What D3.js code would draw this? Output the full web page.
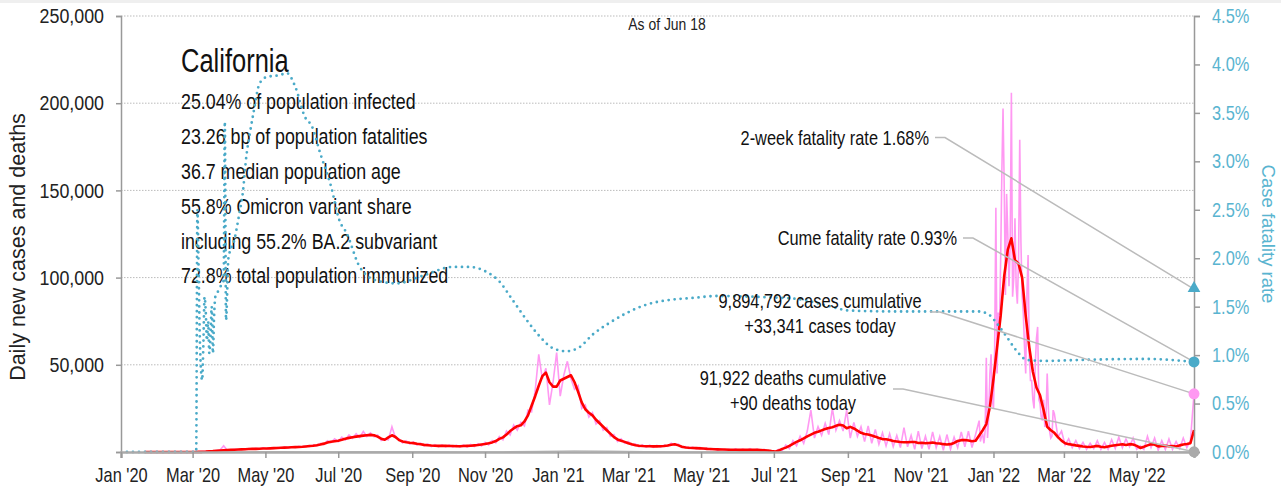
<!DOCTYPE html>
<html>
<head>
<meta charset="utf-8">
<script src="https://cdn.jsdelivr.net/npm/d3@7"></script>
<style>
  body { margin: 0; background: #fff; }
  svg { display: block; }
</style>
</head>
<body>
<div id="chart"></div>
<script>
// daily new cases (thousands), every 3 days from Jan 21 2020
const casesStart = "2020-01-21";
const dailyCases = [
  0, 0, 0, 0, 0, 0, 0, 0, 0, 0,
  0, 0, 0, 0, 0.05, 0.1, 0.2, 0.3, 0.5, 0.6,
  0.9, 1.1, 3.6, 1.0, 1.3, 1.5, 1.2, 1.7, 1.4, 2.0,
  1.6, 2.1, 1.7, 2.4, 1.8, 2.3, 2.0, 2.6, 2.2, 2.8,
  2.4, 3.0, 2.6, 3.3, 2.8, 3.6, 3.1, 4.0, 3.5, 4.9,
  4.3, 6.5, 5.4, 7.5, 6.0, 8.5, 7.0, 9.8, 7.8, 10.5,
  8.4, 11.8, 8.9, 11.0, 8.8, 9.8, 6.6, 7.5, 7.0, 14.5,
  8.0, 7.5, 5.2, 6.5, 4.6, 5.8, 4.0, 5.1, 3.5, 4.6,
  3.1, 4.2, 3.0, 4.1, 2.9, 4.0, 2.8, 3.9, 2.8, 4.1,
  2.9, 4.3, 3.1, 4.8, 3.5, 5.6, 4.1, 6.6, 5.2, 8.9,
  7.0, 12.0, 9.8, 15.5, 12.5, 17.0, 15.0, 24.0, 23.0, 35.0,
  56.0, 42.0, 48.0, 27.0, 40.0, 57.0, 32.0, 44.0, 52.0, 42.0,
  36.0, 38.0, 25.0, 27.0, 20.0, 22.5, 16.0, 18.0, 12.5, 14.0,
  9.0, 10.0, 6.0, 7.5, 5.0, 6.0, 3.8, 4.6, 3.0, 4.0,
  2.8, 3.9, 2.7, 3.8, 2.8, 4.0, 3.2, 5.0, 3.9, 4.5,
  2.5, 3.1, 2.0, 2.8, 1.8, 2.6, 1.6, 2.3, 1.3, 2.0,
  1.1, 1.8, 1.0, 1.7, 0.9, 1.8, 0.8, 1.7, 0.9, 1.9,
  0.8, 1.7, 0.7, 1.5, 0.5, 0.3, 0.1, 1.5, 0.8, 4.0,
  2.0, 6.5, 3.5, 9.0, 5.0, 12.0, 24.0, 8.0, 14.5, 9.5,
  16.5, 10.0, 25.0, 12.5, 18.0, 12.0, 24.0, 8.0, 17.0, 9.0,
  14.5, 6.0, 15.0, 5.0, 13.0, 4.5, 11.0, 3.5, 10.5, 3.0,
  9.5, 2.5, 14.0, 3.0, 9.5, 1.5, 12.0, 2.0, 9.0, 1.5,
  11.5, 2.5, 9.0, 1.0, 10.0, 1.5, 8.5, 2.5, 11.5, 3.0,
  12.0, 2.5, 10.0
];
// Omicron wave, one value per day
const omicronStart = "2021-12-20";
const omicronCases = [
  18, 6, 9, 10, 5, 12, 54, 8, 20, 45,
  56, 30, 25, 60, 140, 45, 80, 70, 110, 160,
  197, 152, 90, 148, 125, 95, 120, 206, 89, 100,
  134, 95, 85, 110, 179, 120, 90, 79.5, 60, 45,
  90, 113, 55, 41, 41, 30, 25, 50, 65, 71.7,
  30, 27.8, 20, 18, 30, 14.3, 20, 45, 25, 12,
  8, 9, 24
];
const springStart = "2022-02-21";
const springCases = [
  22, 8.5, 12, 4, 7.5, 2.5, 6.5, 2, 5.5, 1.5,
  5.0, 2.0, 6.5, 1.5, 5.5, 1.5, 7.0, 2.0, 8.5, 2.5,
  7.5, 3.0, 8.0, 1.5, 3.5, 1.5, 9.0, 2.5, 8.0, 1.0,
  6.5, 1.5, 7.5, 1.5, 6.0, 2.0, 8.0, 2.5, 6.5, 33.341
];

// 7-day average of new cases (thousands), every 3 days from Jan 21 2020
const avgCases = [
  0, 0, 0, 0, 0, 0, 0, 0, 0, 0,
  0, 0, 0, 0, 0.02, 0.05, 0.1, 0.2, 0.35, 0.5,
  0.7, 0.9, 1.0, 1.1, 1.2, 1.3, 1.4, 1.5, 1.6, 1.7,
  1.8, 1.8, 1.9, 2.0, 2.0, 2.1, 2.2, 2.3, 2.4, 2.5,
  2.6, 2.7, 2.8, 2.9, 3.0, 3.2, 3.4, 3.6, 3.9, 4.3,
  4.8, 5.4, 5.9, 6.2, 6.5, 7.0, 7.6, 8.1, 8.5, 8.8,
  9.1, 9.4, 9.6, 9.8, 9.6, 8.8, 7.6, 7.0, 8.4, 9.6,
  8.6, 6.8, 6.0, 5.6, 5.3, 5.1, 4.7, 4.4, 4.1, 3.9,
  3.7, 3.6, 3.5, 3.5, 3.5, 3.4, 3.4, 3.3, 3.3, 3.4,
  3.5, 3.6, 3.8, 4.0, 4.3, 4.6, 5.0, 5.5, 6.3, 7.5,
  8.4, 10.0, 12.0, 13.5, 14.8, 15.3, 17.5, 21.0, 26.5, 32.0,
  38.0, 43.5, 45.5, 40.0, 37.5, 37.5, 41.0, 42.0, 43.0, 44.0,
  40.0, 34.5, 28.5, 24.5, 22.5, 21.0, 18.5, 16.5, 14.5, 12.5,
  10.5, 8.5, 7.2, 6.5, 5.8, 5.0, 4.4, 3.9, 3.6, 3.4,
  3.3, 3.3, 3.2, 3.2, 3.3, 3.4, 3.7, 4.2, 4.4, 3.8,
  3.0, 2.6, 2.4, 2.3, 2.2, 2.1, 2.0, 1.8, 1.7, 1.6,
  1.5, 1.4, 1.4, 1.3, 1.3, 1.3, 1.2, 1.2, 1.2, 1.3,
  1.2, 1.2, 1.1, 1.0, 0.9, 0.5, 0.2, 0.8, 1.8, 2.5,
  3.5, 4.7, 5.8, 6.7, 7.8, 9.0, 10.0, 11.0, 11.6, 12.4,
  13.2, 13.8, 14.2, 15.0, 15.6, 15.2, 13.6, 14.4, 13.5, 12.2,
  11.0, 10.3, 10.0, 9.5, 8.8, 8.0, 7.4, 7.3, 6.9, 6.3,
  6.0, 5.7, 5.6, 5.6, 5.7, 5.7, 5.2, 5.3, 5.0, 5.2,
  5.4, 5.0, 4.9, 4.5, 4.3, 4.5, 5.2, 6.3, 6.8, 6.9,
  6.6, 6.2, 6.5, 9.5, 12.5, 16.0, 26.0, 42.0, 60.0, 78.0,
  101.0, 116.0, 122.5, 110.0, 108.0, 100.0, 78.0, 60.0, 46.0, 37.0,
  32.5, 24.0, 14.5, 12.5, 11.0, 8.5, 6.5, 5.0, 4.5, 4.2,
  3.8, 3.5, 3.2, 3.0, 2.9, 3.2, 3.5, 3.0, 2.7, 3.2,
  3.6, 3.9, 4.2, 4.4, 4.0, 4.5, 4.3, 3.5, 2.3, 3.0,
  3.8, 4.5, 4.3, 3.2, 3.5, 3.6, 3.3, 3.4, 3.1, 3.8,
  4.3, 4.6, 5.0, 12.5
];

// daily deaths (thousands), mid-month from Mar 2020
const deathsStart = "2020-03-15";
const dailyDeaths = [
  0.01, 0.07, 0.08, 0.06, 0.11, 0.14, 0.10, 0.06, 0.06, 0.30,
  0.55, 0.40, 0.15, 0.05, 0.03, 0.02, 0.02, 0.05, 0.10, 0.07,
  0.05, 0.05, 0.09, 0.20, 0.10, 0.04, 0.02, 0.02
];

// case fatality rate (%)
const cfrDates = [
  "2020-01-06", "2020-03-04", "2020-03-05", "2020-03-06", "2020-03-07", "2020-03-08", "2020-03-09",
  "2020-03-10", "2020-03-11", "2020-03-12", "2020-03-13", "2020-03-14", "2020-03-15", "2020-03-16",
  "2020-03-17", "2020-03-18", "2020-03-19", "2020-03-20", "2020-03-22", "2020-03-24", "2020-03-27",
  "2020-03-28", "2020-03-29", "2020-03-31", "2020-04-05", "2020-04-09", "2020-04-12", "2020-04-15",
  "2020-04-18", "2020-04-21", "2020-04-26", "2020-05-02", "2020-05-13", "2020-05-19", "2020-05-26",
  "2020-06-03", "2020-06-09", "2020-06-16", "2020-06-25", "2020-07-02", "2020-07-08", "2020-07-19",
  "2020-08-02", "2020-08-19", "2020-09-10", "2020-10-05", "2020-10-19", "2020-11-02", "2020-11-13",
  "2020-11-24", "2020-12-06", "2020-12-17", "2020-12-28", "2021-01-08", "2021-01-19", "2021-01-30",
  "2021-02-13", "2021-02-27", "2021-03-16", "2021-04-05", "2021-04-24", "2021-05-14", "2021-06-19",
  "2021-07-20", "2021-08-15", "2021-09-02", "2021-10-14", "2021-12-20", "2021-12-29", "2022-01-03",
  "2022-01-12", "2022-01-20", "2022-01-29", "2022-02-14", "2022-03-14", "2022-05-09", "2022-06-18"
];
const cfrValues = [
  0, 0, 2.5, 1.9, 1.2, 0.85, 0.74,
  1.1, 1.6, 1.45, 1.15, 1.35, 1.02, 1.2,
  1.5, 1.02, 1.4, 1.6, 1.65, 1.7, 1.77,
  3.41, 1.36, 2.0, 2.19, 2.45, 2.67, 3.05,
  3.29, 3.5, 3.8, 3.87, 3.89, 3.91, 3.77,
  3.46, 3.36, 3.08, 2.74, 2.39, 2.26, 1.91,
  1.77, 1.74, 1.82, 1.91, 1.91, 1.86, 1.76,
  1.57, 1.36, 1.19, 1.07, 1.04, 1.08, 1.21,
  1.33, 1.43, 1.52, 1.57, 1.59, 1.61, 1.6,
  1.58, 1.51, 1.46, 1.45, 1.45, 1.41, 1.34,
  1.19, 1.05, 0.95, 0.94, 0.95, 0.96, 0.93
];

const caseTicks = [0, 50, 100, 150, 200, 250];
const rateTicks = [0, 0.5, 1, 1.5, 2, 2.5, 3, 3.5, 4, 4.5];

const lastDate = "2022-06-18";
const twoWeekRate = 1.68;
const cumeRate = 0.93;
const casesToday = 33.341;
const deathsToday = 0.09;

const title = "California";
const statLines = [
  "25.04% of population infected",
  "23.26 bp of population fatalities",
  "36.7 median population age",
  "55.8% Omicron variant share",
  "including 55.2% BA.2 subvariant",
  "72.8% total population immunized"
];

const width = 1281;
const height = 491;
const margin = { top: 16, right: 87, bottom: 39, left: 121 };
const font = "'Liberation Sans', Arial, sans-serif";
const blue = "#4aaac8";
const blueText = "#59b4d0";

// no condensed face is installed, so squeeze text horizontally
function squeeze(sel, k) {
  sel.each(function() {
    const t = d3.select(this);
    const x0 = +t.attr("x") || 0;
    t.attr("x", x0 / k).attr("transform", `scale(${k},1)`);
    t.selectAll("tspan").each(function() {
      const s = d3.select(this);
      if (s.attr("x") != null) s.attr("x", +s.attr("x") / k);
    });
  });
}

const parse = d3.timeParse("%Y-%m-%d");
const seq = (start, step, values) =>
  values.map((v, i) => ({ date: d3.timeDay.offset(parse(start), i * step), value: v }));

const cases = [
  ...seq(casesStart, 3, dailyCases),
  ...seq(omicronStart, 1, omicronCases),
  ...seq(springStart, 3, springCases)
];
const avg = seq(casesStart, 3, avgCases);
const deaths = [
  { date: parse(casesStart), value: 0 },
  ...dailyDeaths.map((v, i) => ({ date: d3.timeMonth.offset(parse(deathsStart), i), value: v })),
  { date: parse(lastDate), value: deathsToday }
];
const cfr = cfrDates.map((d, i) => ({ date: parse(d), value: cfrValues[i] }));

const x = d3.scaleTime()
  .domain([parse("2020-01-01"), parse(lastDate)])
  .range([margin.left, width - margin.right]);
const y = d3.scaleLinear().domain([0, 250]).range([height - margin.bottom, margin.top]);
const yr = d3.scaleLinear().domain([0, 4.5]).range([height - margin.bottom, margin.top]);

const svg = d3.select("#chart").append("svg")
  .attr("width", width)
  .attr("height", height)
  .style("font-family", font);

svg.append("rect").attr("width", width).attr("height", 3).attr("fill", "#efefef");

// gridlines
svg.append("g")
  .selectAll("line")
  .data(caseTicks.filter(d => d > 0))
  .join("line")
  .attr("x1", x.range()[0])
  .attr("x2", x.range()[1])
  .attr("y1", d => y(d))
  .attr("y2", d => y(d))
  .attr("stroke", "#bbb")
  .attr("stroke-dasharray", "1.5,1.5");

// info block
const info = svg.append("g").attr("fill", "#111");
info.append("text")
  .attr("x", 181).attr("y", 72.5)
  .attr("font-size", 34)
  .text(title)
  .call(squeeze, 0.75);
info.selectAll("text.stat")
  .data(statLines)
  .join("text")
  .attr("class", "stat")
  .attr("x", 181)
  .attr("y", (d, i) => 109 + i * 34.9)
  .attr("font-size", 22)
  .text(d => d)
  .call(squeeze, 0.81);

svg.append("text")
  .attr("x", 667).attr("y", 30)
  .attr("text-anchor", "middle")
  .attr("font-size", 17)
  .attr("fill", "#222")
  .text("As of Jun 18")
  .call(squeeze, 0.82);

// series
const line = d3.line().x(d => x(d.date)).y(d => y(d.value));
svg.append("path").datum(cases)
  .attr("d", line)
  .attr("fill", "none")
  .attr("stroke", "#ff99f2")
  .attr("stroke-width", 1.6);
svg.append("path").datum(deaths)
  .attr("d", line)
  .attr("fill", "none")
  .attr("stroke", "#bbb")
  .attr("stroke-width", 1.5);
svg.append("path").datum(avg)
  .attr("d", line)
  .attr("fill", "none")
  .attr("stroke", "#ff0000")
  .attr("stroke-width", 2.6)
  .attr("stroke-linejoin", "round");
svg.append("path").datum(cfr)
  .attr("d", d3.line().x(d => x(d.date)).y(d => yr(d.value)).curve(d3.curveMonotoneX))
  .attr("fill", "none")
  .attr("stroke", blue)
  .attr("stroke-width", 2.8)
  .attr("stroke-linecap", "round")
  .attr("stroke-dasharray", "0,6");

// axes
const axisColor = "#999";
const left = svg.append("g")
  .attr("transform", `translate(${margin.left},0)`)
  .call(d3.axisLeft(y).tickValues(caseTicks).tickSize(5).tickPadding(12)
    .tickFormat(d => d === 0 ? "" : d3.format(",")(d * 1000)));
left.selectAll("text").attr("font-size", 21).attr("fill", "#222").attr("font-family", font)
  .call(squeeze, 0.85);

const right = svg.append("g")
  .attr("transform", `translate(${width - margin.right},0)`)
  .call(d3.axisRight(yr).tickValues(rateTicks).tickSize(6).tickPadding(12)
    .tickFormat(d => d.toFixed(1) + "%"));
right.selectAll("text").attr("font-size", 20).attr("fill", blueText).attr("font-family", font)
  .call(squeeze, 0.82);

const bottom = svg.append("g")
  .attr("transform", `translate(0,${height - margin.bottom})`)
  .call(d3.axisBottom(x).ticks(d3.timeMonth.every(2)).tickSizeOuter(0).tickSize(6).tickPadding(10)
    .tickFormat(d3.timeFormat("%b '%y")));
bottom.selectAll("text").attr("font-size", 20).attr("fill", "#222").attr("font-family", font)
  .call(squeeze, 0.82);

[left, right, bottom].forEach(g => {
  g.select(".domain").attr("stroke", axisColor).attr("stroke-width", 1.5);
  g.selectAll(".tick line").attr("stroke", axisColor).attr("stroke-width", 1.5);
});
bottom.select(".domain").attr("stroke", "#aaa").attr("stroke-width", 2.5);

svg.append("text")
  .attr("transform", `translate(25,247) rotate(-90)`)
  .attr("text-anchor", "middle")
  .attr("font-size", 21.5)
  .attr("fill", "#222")
  .text("Daily new cases and deaths");

svg.append("text")
  .attr("transform", `translate(1262,234) rotate(90)`)
  .attr("text-anchor", "middle")
  .attr("font-size", 18.5)
  .attr("fill", blueText)
  .text("Case fatality rate");

// callouts
const xEnd = x(parse(lastDate));
const callouts = [
  { lines: [`2-week fatality rate ${twoWeekRate}%`], anchor: "end", tx: 929, ty: 145, lx: 935, ly: 137.5, ey: yr(twoWeekRate) },
  { lines: [`Cume fatality rate ${cumeRate}%`], anchor: "end", tx: 957, ty: 245, lx: 963, ly: 238, ey: yr(cumeRate) },
  { lines: ["9,894,792 cases cumulative", `+${d3.format(",")(Math.round(casesToday * 1000))} cases today`], anchor: "middle", tx: 820, ty: 308.5, lx: 930, ly: 312, ey: y(casesToday) },
  { lines: ["91,922 deaths cumulative", `+${Math.round(deathsToday * 1000)} deaths today`], anchor: "middle", tx: 793, ty: 385, lx: 893, ly: 389, ey: y(deathsToday) }
];
const callG = svg.append("g");
callouts.forEach(c => {
  callG.append("path")
    .attr("d", d3.line()([[c.lx, c.ly], [c.lx + 10, c.ly], [xEnd, c.ey]]))
    .attr("fill", "none")
    .attr("stroke", "#bbb")
    .attr("stroke-width", 1.5);
  callG.append("text")
    .attr("text-anchor", c.anchor)
    .attr("font-size", 20)
    .attr("fill", "#111")
    .selectAll("tspan")
    .data(c.lines)
    .join("tspan")
    .attr("x", c.tx)
    .attr("y", (d, i) => c.ty + i * 25)
    .text(d => d);
});
callG.selectAll("text").call(squeeze, 0.82);

// end markers
svg.append("path")
  .attr("transform", `translate(${xEnd},${yr(twoWeekRate) - 1})`)
  .attr("d", d3.symbol(d3.symbolTriangle, 70)())
  .attr("fill", blue);
svg.append("circle").attr("cx", xEnd).attr("cy", yr(cumeRate)).attr("r", 5.5).attr("fill", blue);
svg.append("circle").attr("cx", xEnd).attr("cy", y(casesToday)).attr("r", 5.5).attr("fill", "#ff99f2");
svg.append("circle").attr("cx", xEnd).attr("cy", y(deathsToday)).attr("r", 5.5).attr("fill", "#aaa");
</script>
</body>
</html>
